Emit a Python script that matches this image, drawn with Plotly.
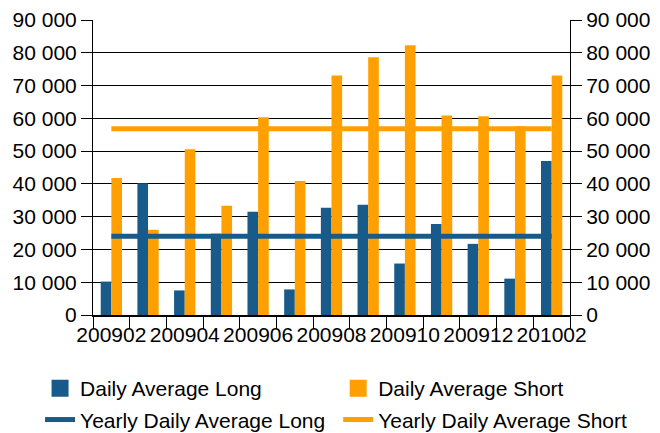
import plotly.graph_objects as go

months = ["200902", "200903", "200904", "200905", "200906", "200907", "200908",
          "200909", "200910", "200911", "200912", "201001", "201002"]
daily_long = [10200, 40200, 7500, 24800, 31500, 7800, 32700, 33600, 15700, 27800, 21700, 11100, 47000]
daily_short = [41800, 26000, 50600, 33300, 60300, 40900, 73100, 78600, 82300, 60900, 60600, 57600, 73100]
yearly_long_value = 24000
yearly_short_value = 56800
tick_labels = [m if i % 2 == 0 else "" for i, m in enumerate(months)]

BLUE = "#185a8a"
ORANGE = "#ffa000"
FONT = "Liberation Sans, Arial, sans-serif"

fig = go.Figure()
# bars (legend entries drawn by legend-only twins below, for a larger swatch)
fig.add_trace(go.Bar(x=months, y=daily_long, name="Daily Average Long", showlegend=False,
                     offsetgroup="long", marker=dict(color=BLUE, line=dict(width=0))))
fig.add_trace(go.Bar(x=months, y=daily_short, name="Daily Average Short", showlegend=False,
                     offsetgroup="short", marker=dict(color=ORANGE, line=dict(width=0))))
fig.add_trace(go.Bar(x=[None], y=[None], name="Daily Average Long", offsetgroup="long",
                     legend="legend", legendgroup="a", legendrank=1, hoverinfo="skip",
                     marker=dict(color=BLUE, line=dict(width=5, color=BLUE))))
fig.add_trace(go.Bar(x=[None], y=[None], name="Daily Average Short", offsetgroup="short",
                     legend="legend2", legendgroup="c", legendrank=1, hoverinfo="skip",
                     marker=dict(color=ORANGE, line=dict(width=5, color=ORANGE))))
fig.add_trace(go.Scatter(x=months, y=[yearly_long_value] * len(months), mode="lines",
                         name="Yearly Daily Average Long", yaxis="y2",
                         legend="legend", legendgroup="b", legendrank=2,
                         line=dict(color=BLUE, width=5)))
fig.add_trace(go.Scatter(x=months, y=[yearly_short_value] * len(months), mode="lines",
                         name="Yearly Daily Average Short", yaxis="y2",
                         legend="legend2", legendgroup="d", legendrank=2,
                         line=dict(color=ORANGE, width=5)))

yax = dict(range=[0, 90000], dtick=10000, tick0=0, showgrid=True, gridcolor="black",
           gridwidth=1, ticks="outside", ticklen=11, tickcolor="black",
           showline=True, linecolor="black", linewidth=1, zeroline=False, automargin=False,
           tickfont=dict(size=21, color="black", family=FONT), tickformat=",d")

leg = dict(orientation="v", xanchor="left", yanchor="top", y=-0.18,
           itemwidth=30, font=dict(size=21, color="black", family=FONT),
           tracegroupgap=1, traceorder="grouped", borderwidth=0, bgcolor="rgba(0,0,0,0)")

fig.update_layout(
    width=660, height=433,
    margin=dict(l=85, r=98, t=12, b=126, autoexpand=False),
    paper_bgcolor="white", plot_bgcolor="white",
    separators=". ",
    font=dict(family=FONT, size=21, color="black"),
    barmode="group", bargap=0.42, bargroupgap=0,
    xaxis=dict(type="category", tickmode="array", tickvals=months, ticktext=tick_labels,
               tickson="boundaries", ticks="outside", ticklen=12, tickcolor="black",
               showline=True, linecolor="black", linewidth=2, showgrid=False, automargin=False,
               tickangle=0, tickfont=dict(size=21, color="black", family=FONT)),
    yaxis=yax,
    yaxis2=dict(yax, overlaying="y", side="right", showgrid=False),
    legend=dict(leg, x=-0.111),
    legend2=dict(leg, x=0.514),
    showlegend=True,
)

fig.write_html("out.html")
